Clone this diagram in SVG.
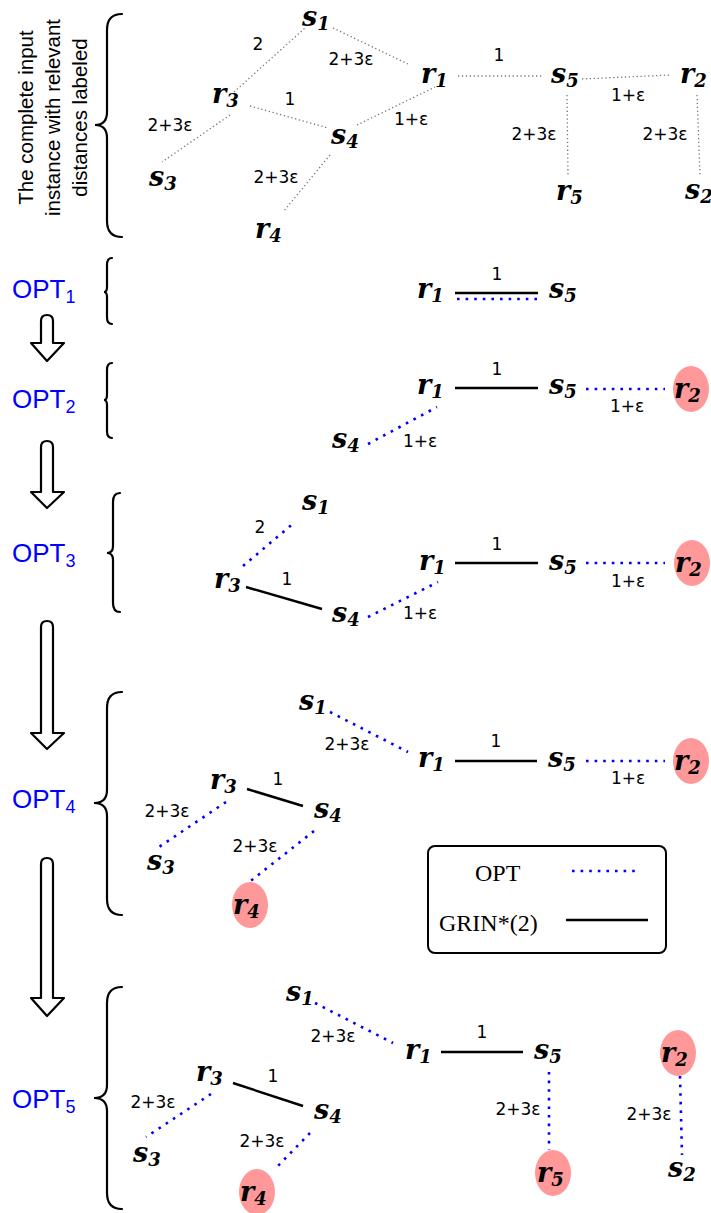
<svg xmlns="http://www.w3.org/2000/svg" width="711" height="1213" viewBox="0 0 711 1213">
<style>
.n{font-family:"DejaVu Serif","Liberation Serif",serif;font-weight:bold;font-style:italic;font-size:27px;fill:#000}
.n tspan{font-size:18px}
.l{font-family:"DejaVu Sans","Liberation Sans",sans-serif;font-size:17px;fill:#000;text-anchor:middle}
.opt{font-family:"Liberation Sans",Arial,sans-serif;font-size:26px;fill:#0000ff}
.opt tspan{font-size:18px}
.side{font-family:"Liberation Sans",Arial,sans-serif;font-size:20.5px;fill:#000;text-anchor:middle}
.leg{font-family:"Liberation Serif","Times New Roman",serif;font-size:24px;fill:#000}
.brace{fill:none;stroke:#000;stroke-width:2.2;stroke-linecap:round}
.arr{fill:#fff;stroke:#000;stroke-width:2.2;stroke-linejoin:round}
.g{stroke:#777;stroke-width:1.3;stroke-dasharray:1.3 2.6;fill:none}
.b{stroke:#0000ff;stroke-width:2.6;stroke-dasharray:2.6 6;fill:none}
.s{stroke:#000;stroke-width:2.4;fill:none}
.hl{fill:#ff9999}
</style>

<g id="side-label">
<text class="side" transform="translate(33,117.5) rotate(-90)">The complete input</text>
<text class="side" transform="translate(60,117.5) rotate(-90)">instance with relevant</text>
<text class="side" transform="translate(87,117.5) rotate(-90)">distances labeled</text>
</g>

<g id="braces">
<path class="brace" d="M122,14 Q107,14 107,30 L107,112 Q107,125 95,125 Q107,125 107,138 L107,221 Q107,237 122,237"/>
<path class="brace" d="M112,258 Q107,258 107,265 L107,287 Q107,292 104,292 Q107,292 107,297 L107,317 Q107,324 112,324"/>
<path class="brace" d="M112,363 Q107,363 107,370 L107,395 Q107,400 104,400 Q107,400 107,405 L107,431 Q107,438 112,438"/>
<path class="brace" d="M120,493 Q113,493 113,502 L113,546 Q113,553 107,553 Q113,553 113,560 L113,603 Q113,612 120,612"/>
<path class="brace" d="M122,692 Q107,692 107,708 L107,790 Q107,803 94,803 Q107,803 107,816 L107,899 Q107,915 122,915"/>
<path class="brace" d="M122,987 Q107,987 107,1003 L107,1085 Q107,1098 94,1098 Q107,1098 107,1111 L107,1193 Q107,1209 122,1209"/>
</g>

<g id="opt-labels">
<text id="opt1" class="opt" x="12" y="298">OPT<tspan dy="5">1</tspan></text>
<text id="opt2" class="opt" x="12" y="408">OPT<tspan dy="5">2</tspan></text>
<text id="opt3" class="opt" x="12" y="562">OPT<tspan dy="5">3</tspan></text>
<text id="opt4" class="opt" x="12" y="808">OPT<tspan dy="5">4</tspan></text>
<text id="opt5" class="opt" x="12" y="1108">OPT<tspan dy="5">5</tspan></text>
</g>

<g id="arrows">
<path class="arr" d="M41,321 Q41,315 47,315 Q53,315 53,321 L53,343 L64,343 L47,361 L31,343 L41,343 Z"/>
<path class="arr" d="M41,447 Q41,441 47,441 Q53,441 53,447 L53,492 L64,492 L47,508 L31,492 L41,492 Z"/>
<path class="arr" d="M41,627 Q41,621 47,621 Q53,621 53,627 L53,733 L64,733 L47,749 L31,733 L41,733 Z"/>
<path class="arr" d="M41,864 Q41,858 47,858 Q53,858 53,864 L53,998 L64,998 L47,1016 L31,998 L41,998 Z"/>
</g>

<g id="connectors">
<line class="g" x1="234" y1="92" x2="305" y2="28"/>
<line class="g" x1="333" y1="28" x2="410" y2="65"/>
<line class="g" x1="250" y1="106" x2="328" y2="128"/>
<line class="g" x1="230" y1="115" x2="162" y2="162"/>
<line class="g" x1="330" y1="155" x2="283" y2="212"/>
<line class="g" x1="357" y1="125" x2="435" y2="87"/>
<line class="g" x1="458" y1="76" x2="542" y2="76"/>
<line class="g" x1="582" y1="79" x2="670" y2="75"/>
<line class="g" x1="567" y1="95" x2="568" y2="175"/>
<line class="g" x1="697" y1="95" x2="700" y2="175"/>
<line class="s" x1="455" y1="293" x2="538" y2="293"/>
<line class="b" x1="457" y1="299" x2="537" y2="299"/>
<line class="s" x1="455" y1="388" x2="538" y2="388"/>
<line class="b" x1="586" y1="389" x2="665" y2="389"/>
<line class="b" x1="368" y1="444" x2="437" y2="407"/>
<line class="b" x1="243" y1="566" x2="295" y2="522"/>
<line class="s" x1="246" y1="587" x2="322" y2="609"/>
<line class="b" x1="368" y1="617" x2="438" y2="582"/>
<line class="s" x1="455" y1="563" x2="538" y2="563"/>
<line class="b" x1="586" y1="563" x2="665" y2="563"/>
<line class="b" x1="330" y1="712" x2="408" y2="752"/>
<line class="s" x1="455" y1="761" x2="537" y2="761"/>
<line class="b" x1="586" y1="761" x2="665" y2="761"/>
<line class="s" x1="247" y1="789" x2="303" y2="806"/>
<line class="b" x1="226" y1="802" x2="159" y2="847"/>
<line class="b" x1="314" y1="831" x2="248" y2="883"/>
<line class="b" x1="315" y1="1003" x2="393" y2="1043"/>
<line class="s" x1="441" y1="1052" x2="523" y2="1052"/>
<line class="b" x1="549" y1="1072" x2="549" y2="1150"/>
<line class="b" x1="680" y1="1076" x2="682" y2="1155"/>
<line class="s" x1="233" y1="1083" x2="303" y2="1106"/>
<line class="b" x1="211" y1="1094" x2="146" y2="1137"/>
<line class="b" x1="310" y1="1133" x2="274" y2="1170"/>
</g>

<g id="edge-labels">
<text class="l" x="258" y="50">2</text>
<text class="l" x="351" y="65">2+3ε</text>
<text class="l" x="290" y="105">1</text>
<text class="l" x="170" y="131">2+3ε</text>
<text class="l" x="276" y="183">2+3ε</text>
<text class="l" x="411" y="125">1+ε</text>
<text class="l" x="499" y="61">1</text>
<text class="l" x="628" y="101">1+ε</text>
<text class="l" x="534" y="140">2+3ε</text>
<text class="l" x="665" y="140">2+3ε</text>
<text class="l" x="497" y="280">1</text>
<text class="l" x="497" y="375">1</text>
<text class="l" x="627" y="412">1+ε</text>
<text class="l" x="420" y="447">1+ε</text>
<text class="l" x="260" y="533">2</text>
<text class="l" x="287" y="585">1</text>
<text class="l" x="420" y="619">1+ε</text>
<text class="l" x="497" y="550">1</text>
<text class="l" x="628" y="587">1+ε</text>
<text class="l" x="347" y="750">2+3ε</text>
<text class="l" x="496" y="747">1</text>
<text class="l" x="628" y="784">1+ε</text>
<text class="l" x="278" y="785">1</text>
<text class="l" x="167" y="817">2+3ε</text>
<text class="l" x="255" y="852">2+3ε</text>
<text class="l" x="333" y="1042">2+3ε</text>
<text class="l" x="482" y="1038">1</text>
<text class="l" x="518" y="1115">2+3ε</text>
<text class="l" x="649" y="1120">2+3ε</text>
<text class="l" x="273" y="1082">1</text>
<text class="l" x="153" y="1108">2+3ε</text>
<text class="l" x="262" y="1147">2+3ε</text>
</g>

<g id="complete-instance">
<g id="c-s1"><text class="n" x="302" y="26">s<tspan dy="4">1</tspan></text></g>
<g id="c-r3"><text class="n" x="212" y="103">r<tspan dy="4">3</tspan></text></g>
<g id="c-s4"><text class="n" x="331" y="144">s<tspan dy="4">4</tspan></text></g>
<g id="c-s3"><text class="n" x="149" y="186">s<tspan dy="4">3</tspan></text></g>
<g id="c-r4"><text class="n" x="255" y="238">r<tspan dy="4">4</tspan></text></g>
<g id="c-r1"><text class="n" x="421" y="83">r<tspan dy="4">1</tspan></text></g>
<g id="c-s5"><text class="n" x="551" y="83">s<tspan dy="4">5</tspan></text></g>
<g id="c-r2"><text class="n" x="680" y="83">r<tspan dy="4">2</tspan></text></g>
<g id="c-r5"><text class="n" x="556" y="200">r<tspan dy="4">5</tspan></text></g>
<g id="c-s2"><text class="n" x="685" y="199">s<tspan dy="4">2</tspan></text></g>
</g>

<g id="opt1-nodes">
<g id="o1-r1"><text class="n" x="417" y="298">r<tspan dy="4">1</tspan></text></g>
<g id="o1-s5"><text class="n" x="549" y="298">s<tspan dy="4">5</tspan></text></g>
</g>

<g id="opt2-nodes">
<g id="o2-r1"><text class="n" x="417" y="394">r<tspan dy="4">1</tspan></text></g>
<g id="o2-s5"><text class="n" x="549" y="394">s<tspan dy="4">5</tspan></text></g>
<g id="o2-r2"><ellipse class="hl" cx="691" cy="389" rx="18" ry="23"/><text class="n" x="674" y="398">r<tspan dy="4">2</tspan></text></g>
<g id="o2-s4"><text class="n" x="332" y="448">s<tspan dy="4">4</tspan></text></g>
</g>

<g id="opt3-nodes">
<g id="o3-r3"><text class="n" x="214" y="588">r<tspan dy="4">3</tspan></text></g>
<g id="o3-s1"><text class="n" x="302" y="510">s<tspan dy="4">1</tspan></text></g>
<g id="o3-s4"><text class="n" x="332" y="622">s<tspan dy="4">4</tspan></text></g>
<g id="o3-r1"><text class="n" x="419" y="570">r<tspan dy="4">1</tspan></text></g>
<g id="o3-s5"><text class="n" x="549" y="570">s<tspan dy="4">5</tspan></text></g>
<g id="o3-r2"><ellipse class="hl" cx="692" cy="563" rx="18" ry="23"/><text class="n" x="675" y="572">r<tspan dy="4">2</tspan></text></g>
</g>

<g id="opt4-nodes">
<g id="o4-s1"><text class="n" x="299" y="710">s<tspan dy="4">1</tspan></text></g>
<g id="o4-r1"><text class="n" x="418" y="767">r<tspan dy="4">1</tspan></text></g>
<g id="o4-s5"><text class="n" x="548" y="767">s<tspan dy="4">5</tspan></text></g>
<g id="o4-r2"><ellipse class="hl" cx="691" cy="761" rx="18" ry="23"/><text class="n" x="674" y="770">r<tspan dy="4">2</tspan></text></g>
<g id="o4-r3"><text class="n" x="210" y="789">r<tspan dy="4">3</tspan></text></g>
<g id="o4-s4"><text class="n" x="314" y="818">s<tspan dy="4">4</tspan></text></g>
<g id="o4-s3"><text class="n" x="147" y="870">s<tspan dy="4">3</tspan></text></g>
<g id="o4-r4"><ellipse class="hl" cx="250" cy="905" rx="18" ry="23"/><text class="n" x="233" y="914">r<tspan dy="4">4</tspan></text></g>
</g>

<g id="legend">
<rect x="428" y="846" width="238" height="107" rx="7" fill="#fff" stroke="#000" stroke-width="2"/>
<text class="leg" x="475" y="881">OPT</text>
<line class="b" x1="572" y1="871" x2="640" y2="871"/>
<text class="leg" x="439" y="931">GRIN*(2)</text>
<line class="s" x1="566" y1="920" x2="648" y2="920"/>
</g>

<g id="opt5-nodes">
<g id="o5-s1"><text class="n" x="286" y="1001">s<tspan dy="4">1</tspan></text></g>
<g id="o5-r1"><text class="n" x="405" y="1059">r<tspan dy="4">1</tspan></text></g>
<g id="o5-s5"><text class="n" x="534" y="1059">s<tspan dy="4">5</tspan></text></g>
<g id="o5-r2"><ellipse class="hl" cx="678" cy="1053" rx="18" ry="23"/><text class="n" x="661" y="1062">r<tspan dy="4">2</tspan></text></g>
<g id="o5-r3"><text class="n" x="196" y="1081">r<tspan dy="4">3</tspan></text></g>
<g id="o5-s4"><text class="n" x="314" y="1119">s<tspan dy="4">4</tspan></text></g>
<g id="o5-s3"><text class="n" x="133" y="1162">s<tspan dy="4">3</tspan></text></g>
<g id="o5-r4"><ellipse class="hl" cx="257" cy="1192" rx="18" ry="23"/><text class="n" x="240" y="1201">r<tspan dy="4">4</tspan></text></g>
<g id="o5-r5"><ellipse class="hl" cx="553" cy="1173" rx="18" ry="23"/><text class="n" x="537" y="1182">r<tspan dy="4">5</tspan></text></g>
<g id="o5-s2"><text class="n" x="668" y="1177">s<tspan dy="4">2</tspan></text></g>
</g>
</svg>
